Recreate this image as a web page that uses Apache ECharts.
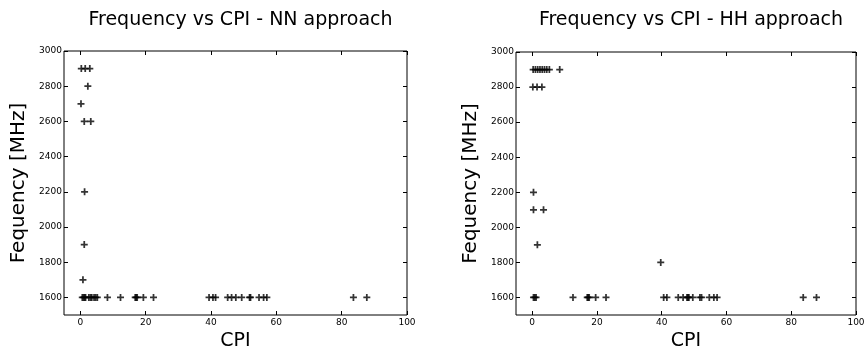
<!DOCTYPE html>
<html>
<head>
<meta charset="utf-8">
<script src="https://cdn.jsdelivr.net/npm/echarts@6/dist/echarts.min.js"></script>
<style>html,body{margin:0;padding:0;background:#fff;}#c{width:868px;height:349px;}</style>
</head>
<body>
<div id="c"></div>
<script>
const titles = ['Frequency vs CPI - NN approach', 'Frequency vs CPI - HH approach'];
const xName = 'CPI';
const yName = 'Fequency [MHz]';
const xTicks = [0, 20, 40, 60, 80, 100];
const yTicks = [1600, 1800, 2000, 2200, 2400, 2600, 2800, 3000];

const nnCpi = [0.3, 1.5, 2.9, 2.3, 0.2, 1.2, 3.2, 1.3, 1.2, 0.8,
  0.6, 1.0, 1.3, 1.6, 2.6, 3.1, 3.5, 4.2, 4.7, 5.2, 8.3, 12.3, 16.8, 17.1, 17.4, 19.3, 22.4,
  39.4, 40.6, 41.4, 45.1, 46.3, 47.6, 49.4, 51.8, 52.1, 54.7, 56.1, 57.1, 83.6, 87.7];
const nnFreq = [2900, 2900, 2900, 2800, 2700, 2600, 2600, 2200, 1900, 1700,
  1600, 1600, 1600, 1600, 1600, 1600, 1600, 1600, 1600, 1600, 1600, 1600, 1600, 1600, 1600, 1600, 1600,
  1600, 1600, 1600, 1600, 1600, 1600, 1600, 1600, 1600, 1600, 1600, 1600, 1600, 1600];

const hhCpi = [0.3, 1.0, 1.7, 2.4, 3.1, 3.8, 4.5, 5.3, 8.5,
  0.2, 1.5, 3.0, 0.4, 0.4, 3.5, 1.6, 39.7,
  0.4, 0.8, 1.2, 12.6, 17.0, 17.3, 17.6, 19.6, 22.8, 40.6, 41.6, 45.1, 46.6, 47.8, 48.1, 48.4,
  49.6, 51.8, 52.3, 54.7, 56.1, 57.1, 83.7, 87.8];
const hhFreq = [2900, 2900, 2900, 2900, 2900, 2900, 2900, 2900, 2900,
  2800, 2800, 2800, 2200, 2100, 2100, 1900, 1800,
  1600, 1600, 1600, 1600, 1600, 1600, 1600, 1600, 1600, 1600, 1600, 1600, 1600, 1600, 1600, 1600,
  1600, 1600, 1600, 1600, 1600, 1600, 1600, 1600];

const FONT = 'DejaVu Sans';
const plus = 'path://M3,0H5V3H8V5H5V8H3V5H0V3H3Z';
const grids = [
  {left: 64, top: 51, width: 343, height: 264},
  {left: 516, top: 52, width: 340, height: 263}
];

function xAx(g, pos, main) {
  return {
    type: 'value', gridIndex: g, position: pos, min: -5, max: 100,
    name: main ? xName : '', nameLocation: 'middle', nameGap: 17,
    nameTextStyle: {fontFamily: FONT, fontSize: 19, color: '#000', verticalAlign: 'top'},
    axisLine: {show: false, onZero: false},
    splitLine: {show: false},
    axisTick: {show: true, inside: true, length: 4, lineStyle: {color: '#000'}, customValues: xTicks},
    axisLabel: {show: main, fontFamily: FONT, fontSize: 9, color: '#000', margin: 3, customValues: xTicks,
      formatter: v => String(v)}
  };
}
function yAx(g, pos, main) {
  return {
    type: 'value', gridIndex: g, position: pos, min: 1500, max: 3000,
    name: main ? yName : '', nameLocation: 'middle', nameGap: 35,
    nameTextStyle: {fontFamily: FONT, fontSize: 20, color: '#000'},
    axisLine: {show: false, onZero: false},
    splitLine: {show: false},
    axisTick: {show: true, inside: true, length: 4, lineStyle: {color: '#000'}, customValues: yTicks},
    axisLabel: {show: main, fontFamily: FONT, fontSize: 9, color: '#000', margin: 2, customValues: yTicks,
      formatter: v => String(v)}
  };
}

function pairs(xs, ys) { return xs.map((x, i) => [x, ys[i]]); }

const chart = echarts.init(document.getElementById('c'), null, {renderer: 'canvas'});
chart.setOption({
  animation: false,
  backgroundColor: '#fff',
  title: titles.map((t, i) => ({
    text: t,
    left: grids[i].left + grids[i].width / 2,
    top: 6,
    textAlign: 'center',
    textStyle: {fontFamily: FONT, fontSize: 19, fontWeight: 'normal', color: '#000'}
  })),
  grid: grids.map(g => Object.assign({show: true, borderColor: '#000', borderWidth: 1,
    backgroundColor: 'transparent', containLabel: false, outerBoundsMode: 'none'}, g)),
  xAxis: [xAx(0, 'bottom', true), xAx(0, 'top', false), xAx(1, 'bottom', true), xAx(1, 'top', false)],
  yAxis: [yAx(0, 'left', true), yAx(0, 'right', false), yAx(1, 'left', true), yAx(1, 'right', false)],
  series: [
    {type: 'scatter', xAxisIndex: 0, yAxisIndex: 0, symbol: plus, symbolSize: 7,
     itemStyle: {color: '#000'}, data: pairs(nnCpi, nnFreq)},
    {type: 'scatter', xAxisIndex: 2, yAxisIndex: 2, symbol: plus, symbolSize: 7,
     itemStyle: {color: '#000'}, data: pairs(hhCpi, hhFreq)}
  ]
});
</script>
</body>
</html>
